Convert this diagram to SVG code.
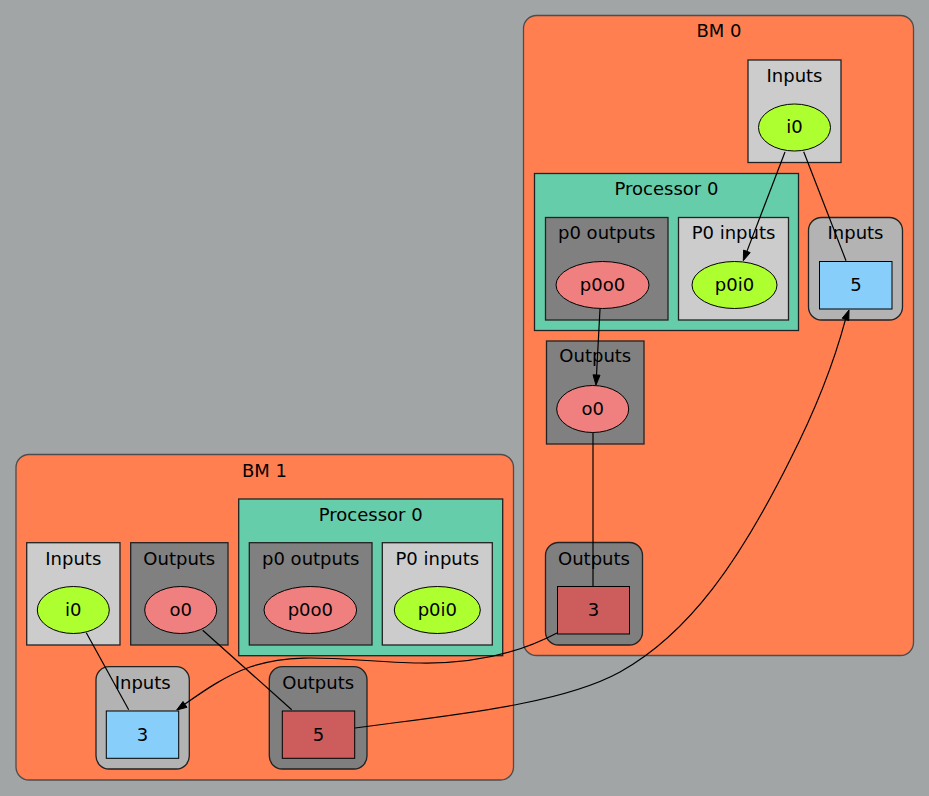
<svg xmlns="http://www.w3.org/2000/svg" width="929" height="796" viewBox="0 0 929 796">
<defs>
<style>
text{font-family:"DejaVu Sans","Liberation Sans",sans-serif;font-size:18px;fill:#000;text-anchor:middle}
.bm{fill:#ff7f50;stroke:#4d4d4d;stroke-width:1.3}
.proc{fill:#66cdaa;stroke:#222;stroke-width:1.3}
.lin{fill:#cccccc;stroke:#222;stroke-width:1.3}
.dout{fill:#808080;stroke:#222;stroke-width:1.3}
.rin{fill:#b3b3b3;stroke:#222;stroke-width:1.3}
.rout{fill:#7f7f7f;stroke:#222;stroke-width:1.3}
.gi{fill:#adff2f;stroke:#000;stroke-width:1}
.ro{fill:#f08080;stroke:#000;stroke-width:1}
.bp{fill:#87cefa;stroke:#000;stroke-width:1}
.rp{fill:#cd5c5c;stroke:#000;stroke-width:1}
.e{fill:none;stroke:#000;stroke-width:1.2}
.ah{fill:#000;stroke:#000;stroke-width:1}
</style>
</defs>
<rect x="0" y="0" width="929" height="796" fill="#a1a5a5"/>

<g id="bm0">
<rect class="bm" x="523.5" y="15.5" width="390" height="640" rx="13"/>
<text x="719" y="37">BM 0</text>
</g>
<g id="bm0_inputs">
<rect class="lin" x="748" y="60" width="93" height="102.5"/>
<text x="794.5" y="81.5">Inputs</text>
</g>
<g id="bm0_i0">
<ellipse class="gi" cx="794.5" cy="127.5" rx="36" ry="23.5"/>
<text x="794.5" y="133">i0</text>
</g>
<g id="bm0_proc">
<rect class="proc" x="534.5" y="173.5" width="264" height="157"/>
<text x="666.5" y="195">Processor 0</text>
</g>
<g id="bm0_p0outputs">
<rect class="dout" x="545.5" y="217.5" width="122.5" height="102.5"/>
<text x="606.7" y="239">p0 outputs</text>
</g>
<g id="bm0_p0o0">
<ellipse class="ro" cx="602.5" cy="285" rx="46.5" ry="23.5"/>
<text x="602.5" y="291">p0o0</text>
</g>
<g id="bm0_p0inputs">
<rect class="lin" x="678.5" y="217.5" width="110" height="102.5"/>
<text x="733.5" y="239">P0 inputs</text>
</g>
<g id="bm0_p0i0">
<ellipse class="gi" cx="734.5" cy="285" rx="42.5" ry="23.5"/>
<text x="734.5" y="291">p0i0</text>
</g>
<g id="bm0_inport">
<rect class="rin" x="808.5" y="217.5" width="94" height="102.5" rx="13"/>
<text x="855.5" y="239">Inputs</text>
</g>
<g id="bm0_in5">
<rect class="bp" x="819.5" y="261.5" width="72.5" height="47.5"/>
<text x="856" y="291">5</text>
</g>
<g id="bm0_outputs">
<rect class="dout" x="546.5" y="341" width="97.5" height="103"/>
<text x="595.3" y="362">Outputs</text>
</g>
<g id="bm0_o0">
<ellipse class="ro" cx="592.7" cy="409" rx="36" ry="23.5"/>
<text x="592.7" y="415">o0</text>
</g>
<g id="bm0_outport">
<rect class="rout" x="545.5" y="542.5" width="97" height="102.5" rx="13"/>
<text x="594" y="565">Outputs</text>
</g>
<g id="bm0_out3">
<rect class="rp" x="557.5" y="586.5" width="72" height="47.5"/>
<text x="593.5" y="616">3</text>
</g>

<g id="bm1">
<rect class="bm" x="16" y="454.5" width="497.5" height="325.5" rx="13"/>
<text x="264.5" y="476.5">BM 1</text>
</g>
<g id="bm1_proc">
<rect class="proc" x="238.7" y="499" width="264" height="156.7"/>
<text x="370.7" y="521">Processor 0</text>
</g>
<g id="bm1_inputs">
<rect class="lin" x="26.7" y="542.7" width="93.3" height="102.3"/>
<text x="73.3" y="565">Inputs</text>
</g>
<g id="bm1_i0">
<ellipse class="gi" cx="73.3" cy="610" rx="36" ry="23.5"/>
<text x="73.3" y="616">i0</text>
</g>
<g id="bm1_outputs">
<rect class="dout" x="130.7" y="542.7" width="97.3" height="102.3"/>
<text x="179.3" y="565">Outputs</text>
</g>
<g id="bm1_o0">
<ellipse class="ro" cx="180.7" cy="610" rx="36" ry="23.5"/>
<text x="180.7" y="616">o0</text>
</g>
<g id="bm1_p0outputs">
<rect class="dout" x="249.3" y="542.7" width="122.7" height="102.3"/>
<text x="310.7" y="565">p0 outputs</text>
</g>
<g id="bm1_p0o0">
<ellipse class="ro" cx="310.3" cy="610" rx="46.3" ry="23.5"/>
<text x="310.3" y="616">p0o0</text>
</g>
<g id="bm1_p0inputs">
<rect class="lin" x="382.3" y="542.7" width="110" height="102.3"/>
<text x="437.3" y="565">P0 inputs</text>
</g>
<g id="bm1_p0i0">
<ellipse class="gi" cx="437.3" cy="610" rx="43" ry="23.5"/>
<text x="437.3" y="616">p0i0</text>
</g>
<g id="bm1_inport">
<rect class="rin" x="96" y="666.7" width="93.3" height="102.3" rx="13"/>
<text x="142.7" y="689.3">Inputs</text>
</g>
<g id="bm1_in3">
<rect class="bp" x="106.3" y="711" width="72.4" height="47.3"/>
<text x="142.5" y="740.5">3</text>
</g>
<g id="bm1_outport">
<rect class="rout" x="269.3" y="666.7" width="97.7" height="102.3" rx="13"/>
<text x="318.2" y="689.3">Outputs</text>
</g>
<g id="bm1_out5">
<rect class="rp" x="282.3" y="711" width="72.4" height="47.3"/>
<text x="318.5" y="740.5">5</text>
</g>

<g id="connectors">
<path class="e" d="M785,152 L746.9,251.4"/>
<polygon class="ah" points="743.3,260.7 750.2,252.6 743.6,250.1"/>
<path class="e" d="M803.7,151.7 L846,260.7"/>
<path class="e" d="M600,309 L596.5,375"/>
<polygon class="ah" points="596,385 600,375.2 593,374.8"/>
<path class="e" d="M593,432.5 L593,586.7"/>
<path class="e" d="M86.3,632.7 L128.7,709.7"/>
<path class="e" d="M202.7,630.3 L291.7,709.7"/>
<path class="e" d="M557,633 C525,650 480,664 420,663 C350,662 300,650 250,667 C225,676 205,690 185,704"/>
<polygon class="ah" points="176.7,710 187,707.3 183,701.5"/>
<path class="e" d="M355,728 C450,715 560,705 620,672 C690,633 740,560 790,460 C818,405 836,355 845.5,319.4"/>
<polygon class="ah" points="849,310 848.8,320.6 842.2,318.2"/>
</g>
</svg>
